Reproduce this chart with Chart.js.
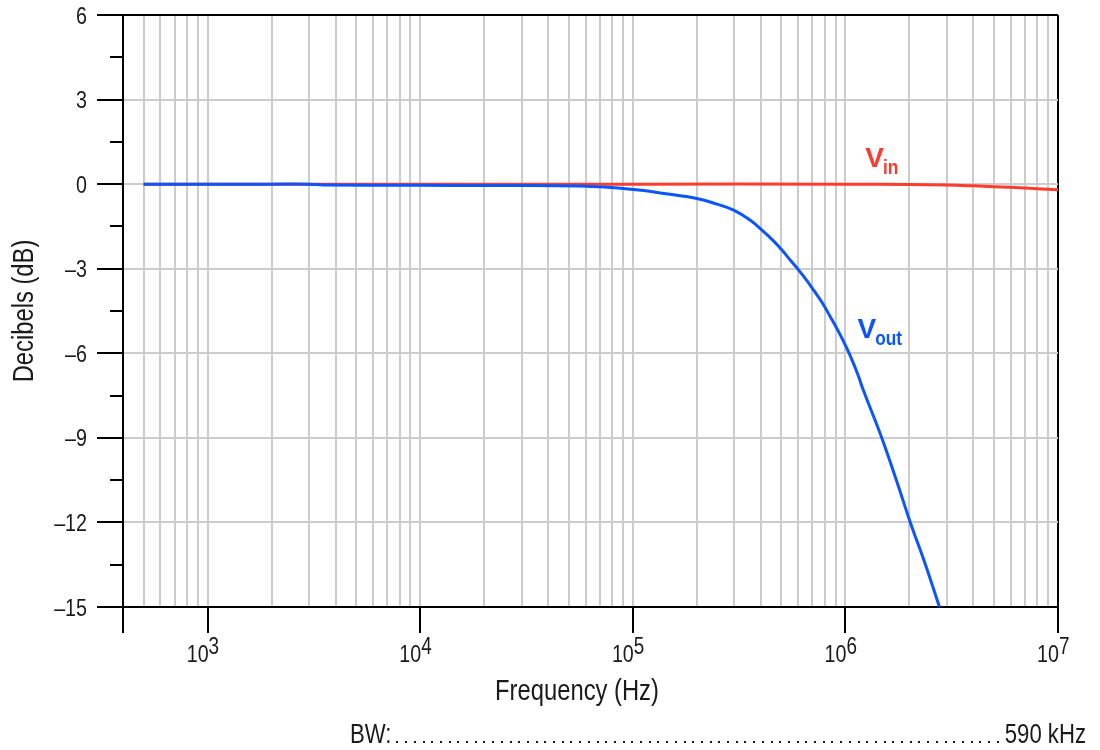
<!DOCTYPE html>
<html>
<head>
<meta charset="utf-8">
<script src="https://cdn.jsdelivr.net/npm/chart.js@4"></script>
<style>
  body { margin: 0; background: #fff; }
  canvas { display: block; }
</style>
</head>
<body>
<canvas id="myChart" width="1100" height="750"></canvas>
<script>
// Frequency response data
const voutFreq = [500, 1000, 2000, 3000, 3500, 10000, 20000, 56700, 101000, 140000, 200000, 249000, 298000, 357000, 405000, 460000, 503000, 551000, 603000, 660000, 709000, 777000, 850000, 930000, 1020000, 1090000, 1150000, 1220000, 1486000, 1745000, 2020000, 2380000, 2770000];
const voutDb = [0, 0, 0, 0, -0.03, -0.04, -0.05, -0.07, -0.19, -0.33, -0.51, -0.71, -0.92, -1.28, -1.63, -2.02, -2.34, -2.70, -3.05, -3.43, -3.76, -4.20, -4.71, -5.24, -5.85, -6.35, -6.8, -7.35, -9.02, -10.55, -12.0, -13.5, -15];
const vinFreq = [500, 10000, 100000, 1000000, 2000000, 3000000, 4000000, 5000000, 7000000, 10000000];
const vinDb = [0, 0, 0, 0, -0.01, -0.03, -0.06, -0.09, -0.14, -0.2];

// Axis ticks
const decades = [1e3, 1e4, 1e5, 1e6, 1e7];
const decadeExp = ['3', '4', '5', '6', '7'];
const minorMult = [2, 3, 4, 5, 6, 7, 8, 9];
const yTicks = [-15, -13.5, -12, -10.5, -9, -7.5, -6, -4.5, -3, -1.5, 0, 1.5, 3, 4.5, 6];

// Text
const xTitle = 'Frequency (Hz)';
const yTitle = 'Decibels (dB)';
const seriesNames = ['V', 'V'];
const seriesSubs = ['in', 'out'];
const labelFreq = [1.24e6, 1.14e6];
const labelDb = [0.6, -5.46];
const bwLabel = 'BW:';
const bwValue = '590 kHz';

const FONT = '"Liberation Sans", Arial, sans-serif';
const SX = 0.82; // horizontal squeeze to mimic a condensed face
const RED = '#ff3b2e';
const BLUE = '#0a55ff';
const GRID = '#cccccc';
const INK = '#1a1a1a';

// x grid values: partial first decade from 400 Hz, then 1..9 per decade
const xMin = 400, xMax = 1e7;
const xGrid = [xMin];
[100, 1000, 10000, 100000, 1000000].forEach(d => {
    [1, ...minorMult].forEach(m => {
        const v = d * m;
        if (v > xMin && v < xMax) xGrid.push(v);
    });
});
xGrid.push(xMax);

const isDecade = v => decades.includes(v);

// draw text squeezed horizontally, returns drawn width
function drawText(ctx, text, x, y, font, align, sx) {
    sx = sx || SX;
    ctx.save();
    ctx.font = font;
    ctx.textAlign = 'left';
    ctx.textBaseline = 'alphabetic';
    const w = ctx.measureText(text).width * sx;
    let x0 = x;
    if (align === 'right') x0 = x - w;
    if (align === 'center') x0 = x - w / 2;
    ctx.translate(x0, y);
    ctx.scale(sx, 1);
    ctx.fillText(text, 0, 0);
    ctx.restore();
    return w;
}

const overlay = {
    id: 'overlay',
    afterDraw(chart) {
        const ctx = chart.ctx;
        const xs = chart.scales.x;
        const ys = chart.scales.y;
        const area = chart.chartArea;
        ctx.save();

        // short minor ticks on y axis
        ctx.strokeStyle = '#000';
        ctx.lineWidth = 2;
        yTicks.forEach(v => {
            if (v % 3 !== 0) {
                const y = Math.round(ys.getPixelForValue(v));
                ctx.beginPath();
                ctx.moveTo(area.left - 13, y);
                ctx.lineTo(area.left, y);
                ctx.stroke();
            }
        });

        ctx.fillStyle = INK;
        // y tick labels
        yTicks.forEach(v => {
            if (v % 3 === 0) {
                const txt = v < 0 ? '\u2013' + Math.abs(v) : String(v);
                drawText(ctx, txt, area.left - 36, ys.getPixelForValue(v) + 8.5, '24px ' + FONT, 'right');
            }
        });

        // decade labels with superscripts
        decades.forEach((d, i) => {
            const x = xs.getPixelForValue(d);
            drawText(ctx, '10', x + 1, area.bottom + 55, '24px ' + FONT, 'right');
            drawText(ctx, decadeExp[i], x + 1, area.bottom + 47, '23px ' + FONT, 'left');
        });

        // axis titles
        drawText(ctx, xTitle, 577, area.bottom + 93, '29px ' + FONT, 'center');
        ctx.save();
        ctx.translate(33, (area.top + area.bottom) / 2);
        ctx.rotate(-Math.PI / 2);
        drawText(ctx, yTitle, 0, 0, '29px ' + FONT, 'center');
        ctx.restore();

        // series labels
        const colors = [RED, BLUE];
        seriesNames.forEach((name, i) => {
            const x = xs.getPixelForValue(labelFreq[i]);
            const y = ys.getPixelForValue(labelDb[i]);
            ctx.fillStyle = colors[i];
            const w = drawText(ctx, name, x, y, 'bold 28px ' + FONT, 'left', 1);
            drawText(ctx, seriesSubs[i], x + w - 1, y + 7, 'bold 21px ' + FONT, 'left');
        });

        // bandwidth line with dot leader
        ctx.fillStyle = INK;
        const wl = drawText(ctx, bwLabel, 350, 743, '27px ' + FONT, 'left');
        const wv = drawText(ctx, bwValue, 1086, 743, '27px ' + FONT, 'right');
        const left = 350 + wl + 5;
        const right = 1086 - wv - 5;
        for (let x = left; x < right; x += 8.7) {
            ctx.fillRect(Math.round(x), 741, 2, 2);
        }
        ctx.restore();
    }
};

document.addEventListener('DOMContentLoaded', () => {
    const ctx = document.getElementById('myChart').getContext('2d');
    new Chart(ctx, {
        type: 'line',
        data: {
            datasets: [
                {
                    label: 'Vout',
                    data: voutFreq.map((f, i) => ({ x: f, y: voutDb[i] })),
                    borderColor: BLUE,
                    borderWidth: 3,
                    tension: 0.4
                },
                {
                    label: 'Vin',
                    data: vinFreq.map((f, i) => ({ x: f, y: vinDb[i] })),
                    borderColor: RED,
                    borderWidth: 3,
                    tension: 0.4
                }
            ]
        },
        options: {
            responsive: false,
            animation: false,
            devicePixelRatio: 1,
            layout: { padding: { left: 0, right: 42, top: 15, bottom: 0 } },
            elements: { point: { radius: 0 } },
            plugins: { legend: { display: false }, tooltip: { enabled: false } },
            scales: {
                x: {
                    type: 'logarithmic',
                    min: xMin,
                    max: xMax,
                    afterBuildTicks: scale => { scale.ticks = xGrid.map(v => ({ value: v })); },
                    afterFit: scale => {
                        scale.height = 143;
                        scale.paddingLeft = 0;
                        scale.paddingRight = 0;
                    },
                    ticks: { display: false },
                    grid: {
                        color: c => (c.tick && (c.tick.value === xMax || c.tick.value === xMin)) ? '#000' : GRID,
                        lineWidth: 2,
                        tickLength: 26,
                        tickWidth: 2,
                        tickColor: c => (c.tick && (isDecade(c.tick.value) || c.tick.value === xMin)) ? '#000' : 'rgba(0,0,0,0)'
                    },
                    border: { display: true, color: '#000', width: 2 }
                },
                y: {
                    min: -15,
                    max: 6,
                    afterBuildTicks: scale => { scale.ticks = yTicks.map(v => ({ value: v })); },
                    afterFit: scale => {
                        scale.width = 123;
                        scale.paddingTop = 0;
                        scale.paddingBottom = 0;
                    },
                    ticks: { display: false },
                    grid: {
                        color: c => {
                            const v = c.tick ? c.tick.value : 0;
                            if (v === 6) return '#000';
                            return v % 3 === 0 ? GRID : 'rgba(0,0,0,0)';
                        },
                        lineWidth: 2,
                        tickLength: 26,
                        tickWidth: 2,
                        tickColor: c => (c.tick && c.tick.value % 3 === 0) ? '#000' : 'rgba(0,0,0,0)'
                    },
                    border: { display: true, color: '#000', width: 2 }
                }
            }
        },
        plugins: [overlay]
    });
});
</script>
</body>
</html>
